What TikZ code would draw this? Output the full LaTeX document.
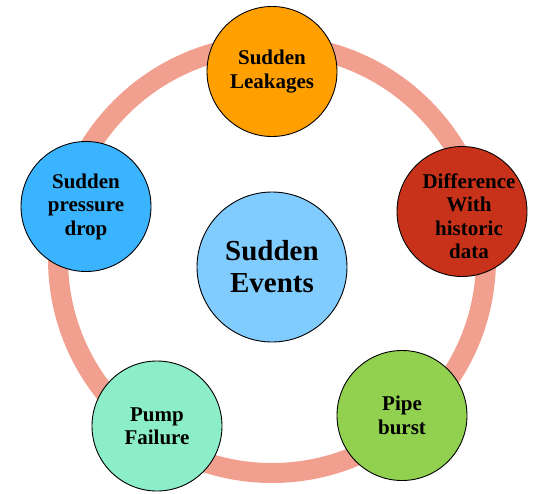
\documentclass[tikz,border=0pt]{standalone}
\usepackage{fontspec}
\setmainfont{Liberation Serif}
\definecolor{ringc}{HTML}{F1A08F}
\definecolor{orangec}{HTML}{FFA000}
\definecolor{redc}{HTML}{C8321A}
\definecolor{bluec}{HTML}{3BB4FF}
\definecolor{mintc}{HTML}{8CEEC8}
\definecolor{greenc}{HTML}{92D050}
\definecolor{centerc}{HTML}{80CCFF}
\begin{document}
\begin{tikzpicture}[x=1pt,y=-1pt,
  bubble/.style={circle, draw=black, line width=0.9pt, minimum size=130pt, inner sep=0pt,
    align=center, font=\fontsize{21}{23.5}\selectfont\bfseries},
  txt/.style={align=center, inner sep=0pt, font=\fontsize{21}{23.5}\selectfont\bfseries}]
\useasboundingbox (0,0) rectangle (535,493);
\coordinate (ringc) at (272,259);
\draw[line width=20pt, ringc] (ringc) circle[radius=214pt];
\node[bubble, fill=orangec] (leak) at (272,71.5) {Sudden\\Leakages};
\node[bubble, fill=redc] (diff) at (462,211.5) {};
\node[txt] (difft) at (469,216) {Difference\\With\\historic\\data};
\node[bubble, fill=bluec] (press) at (86,206.5) {Sudden\\pressure\\drop};
\node[bubble, fill=mintc] (pump) at (157,426) {Pump\\Failure};
\node[bubble, fill=greenc] (pipe) at (402,415.5) {Pipe\\burst};
\node[bubble, fill=centerc, minimum size=150pt, font=\fontsize{29}{32}\selectfont\bfseries] (center) at (272,267) {Sudden\\Events};
\end{tikzpicture}
\end{document}
